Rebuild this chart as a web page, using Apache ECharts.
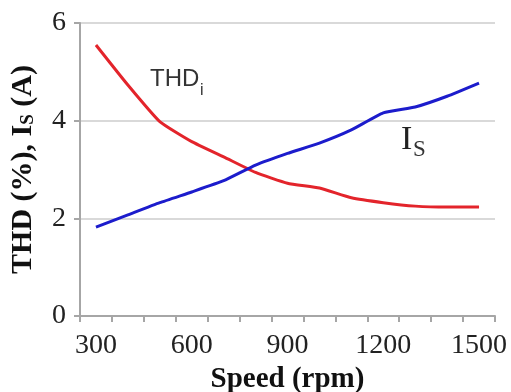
<!DOCTYPE html>
<html>
<head>
<meta charset="utf-8">
<script src="https://cdn.jsdelivr.net/npm/echarts@6/dist/echarts.min.js"></script>
<style>
  html, body { margin: 0; padding: 0; background: #fff; }
  #chart { width: 511px; height: 392px; }
</style>
</head>
<body>
<div id="chart"></div>
<script>
// Motor speed (rpm) and the measured quantities at each speed
const speeds = ['300', '400', '500', '600', '700', '800', '900', '1000', '1100', '1200', '1300', '1400', '1500'];
const thdValues = [5.55, 4.73, 3.98, 3.57, 3.26, 2.94, 2.72, 2.62, 2.42, 2.32, 2.25, 2.23, 2.23];
const isValues = [1.82, 2.07, 2.32, 2.54, 2.77, 3.09, 3.33, 3.54, 3.81, 4.16, 4.28, 4.5, 4.77];
const yTicks = { min: 0, max: 6, step: 2 };

const serif = '"Liberation Serif", "DejaVu Serif", serif';
const sans = '"Liberation Sans", Arial, sans-serif';

const chart = echarts.init(document.getElementById('chart'), null, { renderer: 'canvas' });

chart.setOption({
  animation: false,
  backgroundColor: '#ffffff',
  grid: { left: 80, right: 16, top: 23, bottom: 76, outerBoundsMode: 'none', containLabel: false },
  xAxis: {
    type: 'category',
    data: speeds,
    boundaryGap: true,
    name: 'Speed (rpm)',
    nameLocation: 'middle',
    nameGap: 48,
    nameTextStyle: { fontFamily: serif, fontWeight: 'bold', fontSize: 29, color: '#111' },
    axisLine: { show: true, lineStyle: { color: '#a6a6a6', width: 2 } },
    axisTick: { show: true, interval: 0, length: 6, lineStyle: { color: '#a6a6a6', width: 2 } },
    axisLabel: { interval: 2, margin: 16, fontFamily: serif, fontSize: 28, color: '#222' },
    splitLine: { show: false }
  },
  yAxis: {
    type: 'value',
    min: yTicks.min,
    max: yTicks.max,
    interval: yTicks.step,
    name: '{a|THD (%), I}{s|S}{a| (A)}',
    nameLocation: 'middle',
    nameRotate: 90,
    nameGap: 42,
    nameTextStyle: {
      fontFamily: serif, fontWeight: 'bold', fontSize: 30, color: '#111',
      rich: {
        a: { fontFamily: serif, fontWeight: 'bold', fontSize: 30, lineHeight: 30, verticalAlign: 'top', color: '#111' },
        s: { fontFamily: serif, fontWeight: 'bold', fontSize: 19, lineHeight: 19, verticalAlign: 'bottom', color: '#111', padding: [16, 0, 0, 0] }
      }
    },
    axisLine: { show: true, lineStyle: { color: '#a6a6a6', width: 2 } },
    axisTick: { show: true, length: 6, lineStyle: { color: '#a6a6a6', width: 2 } },
    axisLabel: { margin: 14, fontFamily: serif, fontSize: 28, color: '#222' },
    splitLine: { show: true, lineStyle: { color: '#d9d9d9', width: 2 } }
  },
  series: [
    {
      name: 'THDi',
      type: 'line',
      data: thdValues,
      showSymbol: false,
      smooth: 0.15,
      lineStyle: { color: '#e3242b', width: 3 },
      itemStyle: { color: '#e3242b' }
    },
    {
      name: 'Is',
      type: 'line',
      data: isValues,
      showSymbol: false,
      smooth: 0.15,
      lineStyle: { color: '#1c1ccc', width: 3 },
      itemStyle: { color: '#1c1ccc' }
    }
  ],
  graphic: [
    // curve labels, each subscript drawn as its own text so it sits below the baseline
    { type: 'text', left: 150, top: 67, style: { text: 'THD', font: '24px ' + sans, fill: '#333' } },
    { type: 'text', left: 200, top: 83, style: { text: 'i', font: '16px ' + sans, fill: '#333' } },
    { type: 'text', left: 401, top: 123, style: { text: 'I', font: '34px ' + serif, fill: '#222' } },
    { type: 'text', left: 413, top: 138, style: { text: 'S', font: '23px ' + serif, fill: '#333' } }
  ]
});
</script>
</body>
</html>
